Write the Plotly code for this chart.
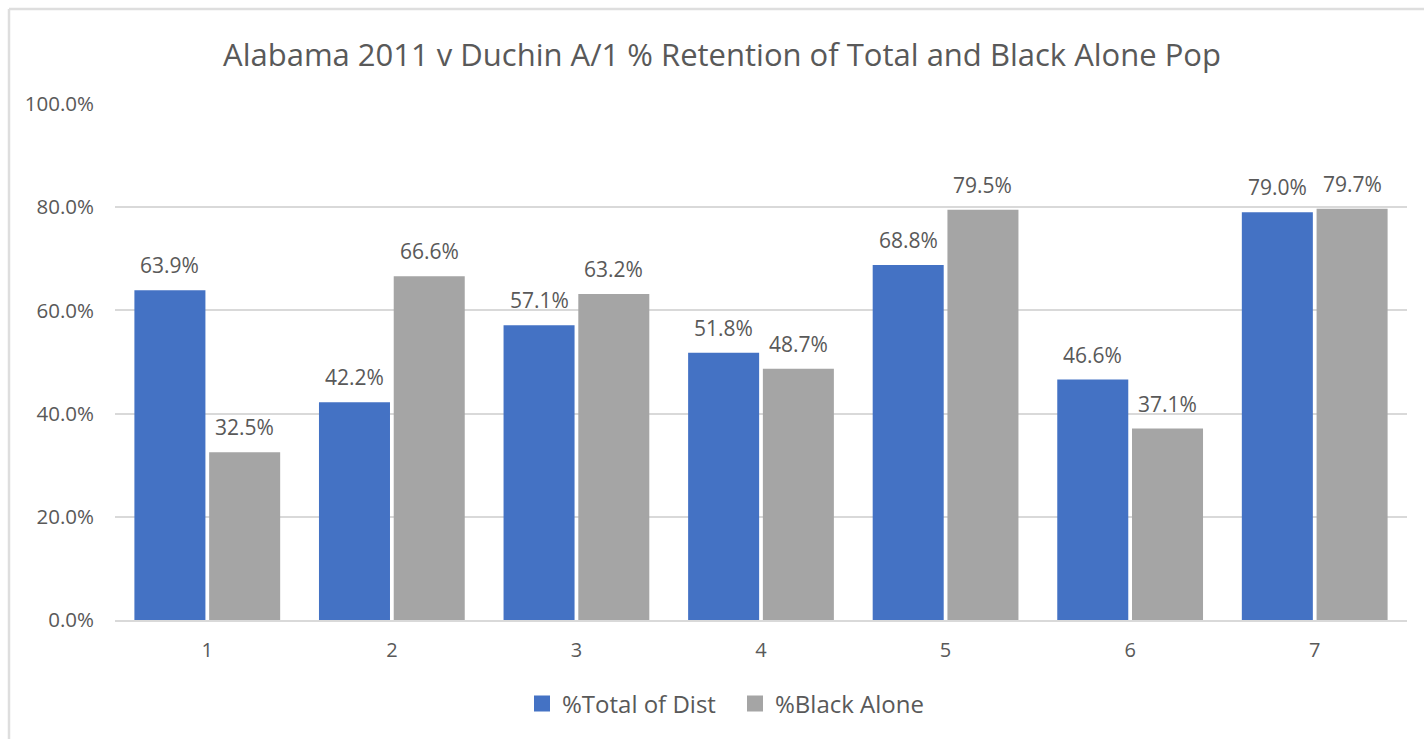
import plotly.graph_objects as go

categories = ["1", "2", "3", "4", "5", "6", "7"]
total_of_dist = [63.9, 42.2, 57.1, 51.8, 68.8, 46.6, 79.0]
black_alone = [32.5, 66.6, 63.2, 48.7, 79.5, 37.1, 79.7]
y_ticks = [0, 20, 40, 60, 80, 100]
y_tick_labels = ["0.0%", "20.0%", "40.0%", "60.0%", "80.0%", "100.0%"]
series_names = ["%Total of Dist", "%Black Alone"]

FONT = "Open Sans"
TXT = "#595959"
GRID = "#d9d9d9"
BLUE = "#4472C4"
GRAY = "#A5A5A5"

W, H = 1424, 739
ML, MR, MT, MB = 115, 17, 104, 119
BARGAP, GROUPGAP = 0.19, 0.05

fig = go.Figure()
fig.add_trace(go.Bar(x=categories, y=total_of_dist, name=series_names[0],
                     marker=dict(color=BLUE, line=dict(width=0)), showlegend=False))
fig.add_trace(go.Bar(x=categories, y=black_alone, name=series_names[1],
                     marker=dict(color=GRAY, line=dict(width=0)), showlegend=False))
# legend proxies (larger square swatches)
for name, col in zip(series_names, (BLUE, GRAY)):
    fig.add_trace(go.Scatter(x=[None], y=[None], mode="markers", name=name,
                             marker=dict(symbol="square", size=16, color=col)))

plot_w = W - ML - MR
slot_px = plot_w / len(categories) * (1 - BARGAP) / 2
annotations = []
for series, sign in ((total_of_dist, -1), (black_alone, 1)):
    for i, v in enumerate(series):
        annotations.append(dict(x=i, y=v, text=f"{v:.1f}%", showarrow=False,
                                xref="x", yref="y", xshift=sign * slot_px / 2,
                                yshift=25, font=dict(family=FONT, size=21, color=TXT)))

plot_h = H - MT - MB
bx = (9 - ML) / plot_w
by = (H - MB - 9) / plot_h
shapes = [
    dict(type="line", xref="paper", yref="paper", x0=bx, x1=bx, y0=by, y1=-1,
         line=dict(color="#dedede", width=2.5)),
    dict(type="line", xref="paper", yref="paper", x0=bx, x1=1.2, y0=by, y1=by,
         line=dict(color="#dedede", width=2.5)),
]

fig.update_layout(
    width=W, height=H,
    margin=dict(l=ML, r=MR, t=MT, b=MB, pad=0),
    paper_bgcolor="white", plot_bgcolor="white",
    title=dict(text="Alabama 2011 v Duchin A/1 % Retention of Total and Black Alone Pop",
               x=(722 - ML) / plot_w, xref="paper", xanchor="center",
               y=1 - 55 / H, yanchor="middle",
               font=dict(family=FONT, size=31, color=TXT)),
    barmode="group", bargap=BARGAP, bargroupgap=GROUPGAP,
    font=dict(family=FONT, color=TXT),
    xaxis=dict(type="category", range=[-0.5, len(categories) - 0.5],
               showgrid=False, showline=True, linecolor=GRID,
               linewidth=1.5, ticks="", tickfont=dict(family=FONT, size=20, color=TXT),
               ticklabelstandoff=11),
    yaxis=dict(range=[0, 100], tickvals=y_ticks, ticktext=y_tick_labels,
               showgrid=True, gridcolor=GRID, gridwidth=1.5, zeroline=False,
               showline=False, ticks="", tickfont=dict(family=FONT, size=20.5, color=TXT),
               ticklabelstandoff=20),
    legend=dict(orientation="h", x=(735 - ML) / plot_w, xanchor="center",
                y=(H - MB - 704) / plot_h, yanchor="middle",
                font=dict(family=FONT, size=24, color=TXT),
                itemwidth=30, traceorder="normal", itemsizing="trace",
                entrywidth=168),
    annotations=annotations,
    shapes=shapes,
)

fig.write_html("out.html", post_script="document.body.style.margin='0';",
               config={"displayModeBar": False})
